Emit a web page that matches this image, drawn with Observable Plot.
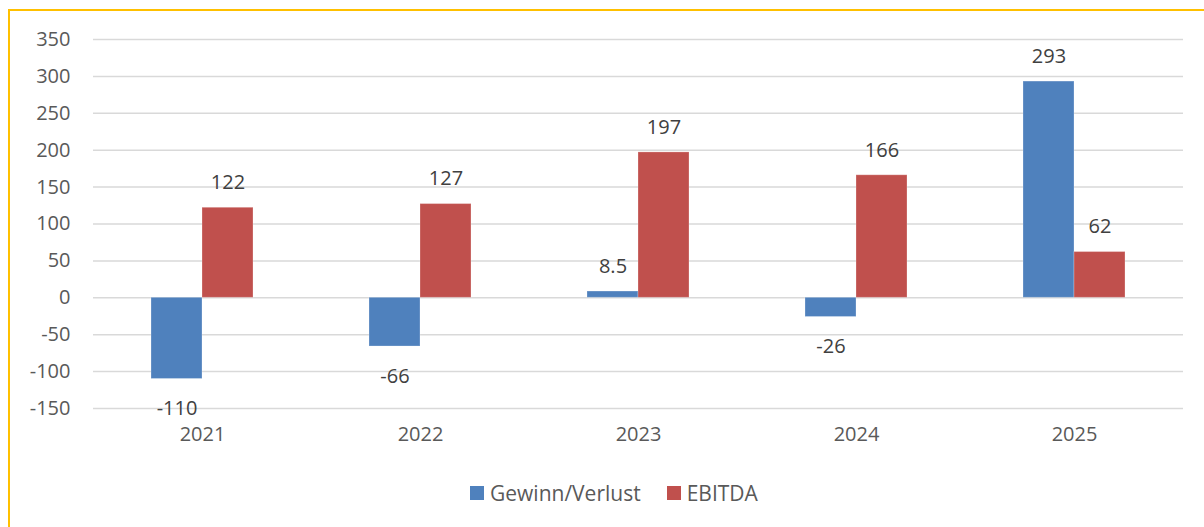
<!DOCTYPE html>
<html>
<head>
<meta charset="utf-8">
<script src="https://cdn.jsdelivr.net/npm/d3@7"></script>
<script src="https://cdn.jsdelivr.net/npm/@observablehq/plot@0.6"></script>
<style>
  html, body { margin: 0; padding: 0; background: #fff; overflow: hidden; width: 1204px; height: 527px; }
  #frame { position: absolute; left: 8px; top: 9px; width: 1400px; height: 700px;
           border-left: 2px solid #ffc000; border-top: 2px solid #ffc000; box-sizing: border-box; }
  #chart { position: absolute; left: 0; top: 0; }
  #legend { position: absolute; left: 470px; top: 480px; display: flex; align-items: center;
            font-family: 'Open Sans', 'DejaVu Sans', sans-serif; font-size: 21px; color: #595959; line-height: 26px; }
  .item { display: flex; align-items: center; margin-right: 26px; }
  .sw { width: 14px; height: 14px; margin-right: 6px; display: inline-block; }
</style>
</head>
<body>
<div id="frame"></div>
<div id="chart"></div>
<div id="legend"></div>
<script>
const years = ["2021", "2022", "2023", "2024", "2025"];
const series = ["Gewinn/Verlust", "EBITDA"];
const gewinn = [-110, -66, 8.5, -26, 293];
const ebitda = [122, 127, 197, 166, 62];
const colors = ["#4f81bd", "#c0504d"];
const yTicks = [-150, -100, -50, 0, 50, 100, 150, 200, 250, 300, 350];

const data = [];
years.forEach((y, i) => {
  data.push({year: y, series: series[0], value: gewinn[i]});
  data.push({year: y, series: series[1], value: ebitda[i]});
});

const font = "'Open Sans', 'DejaVu Sans', sans-serif";

const chart = Plot.plot({
  width: 1204,
  height: 458,
  marginLeft: 93,
  marginRight: 21,
  marginTop: 39,
  marginBottom: 50,
  style: {fontFamily: font, fontSize: "20px", color: "#595959", background: "transparent"},
  fx: {domain: years, padding: 0, label: null, tickSize: 0, tickPadding: 18, axis: "bottom"},
  x: {domain: series, paddingInner: 0, paddingOuter: 1.1, axis: null},
  y: {domain: [-150, 350], ticks: yTicks, label: null, tickSize: 0, tickPadding: 23, grid: false},
  color: {domain: series, range: colors},
  marks: [
    Plot.gridY(yTicks, {stroke: "#d9d9d9", strokeOpacity: 1, strokeWidth: 1.5}),
    Plot.axisY(yTicks, {tickSize: 0, tickPadding: 23, label: null, fill: "#595959", fontSize: 20, tickFormat: d => String(d)}),
    Plot.barY(data, {fx: "year", x: "series", y: "value", fill: "series", inset: 0, stroke: "#ffffff", strokeOpacity: 0.25, strokeWidth: 1}),
    Plot.text(data.filter(d => d.value >= 0), {fx: "year", x: "series", y: "value", text: d => String(d.value), dy: -25, fill: "#404040", fontSize: 20}),
    Plot.text(data.filter(d => d.value < 0), {fx: "year", x: "series", y: "value", text: d => String(d.value), dy: 30, fill: "#404040", fontSize: 20})
  ]
});
document.getElementById("chart").appendChild(chart);

const colorScale = chart.scale("color");
const legend = document.getElementById("legend");
colorScale.domain.forEach((s, i) => {
  const item = document.createElement("span");
  item.className = "item";
  const sw = document.createElement("span");
  sw.className = "sw";
  sw.style.background = colorScale.range[i];
  const label = document.createElement("span");
  label.textContent = s;
  item.appendChild(sw);
  item.appendChild(label);
  legend.appendChild(item);
});
</script>
</body>
</html>
